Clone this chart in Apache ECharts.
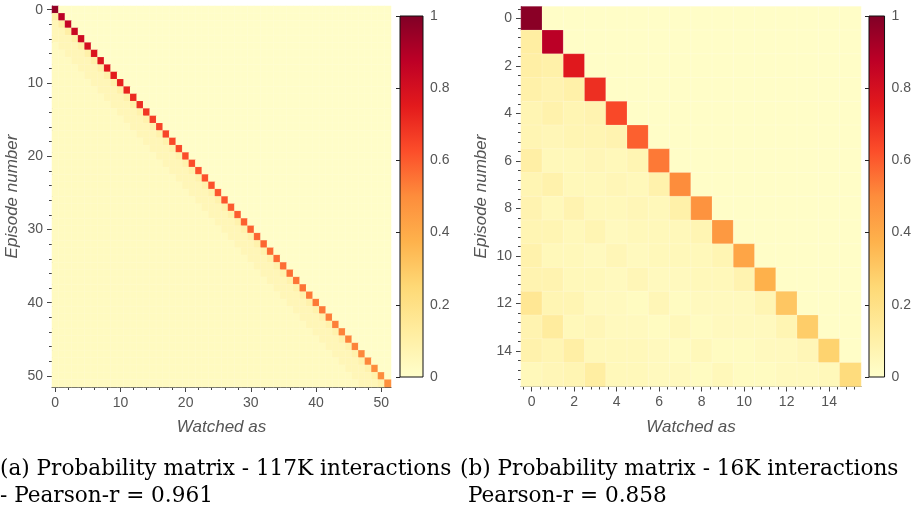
<!DOCTYPE html>
<html>
<head>
    <meta charset="utf-8">
    <title>Probability matrices</title>
    <script src="https://cdn.jsdelivr.net/npm/echarts@6/dist/echarts.min.js"></script>
    <style>
        html, body { margin: 0; padding: 0; background: #fff; }
    </style>
</head>
<body>
    <div id="main" style="width: 914px;height:512px;"></div>
    <script type="text/javascript">
    // ---- data ----
    // (a) 52 episodes
    var diagA = [0.96, 0.88, 0.85, 0.84, 0.82, 0.80, 0.78, 0.77, 0.76, 0.75,
                 0.73, 0.72, 0.71, 0.70, 0.68, 0.66, 0.65, 0.65, 0.64, 0.64,
                 0.63, 0.63, 0.62, 0.62, 0.62, 0.61, 0.61, 0.60, 0.60, 0.59,
                 0.59, 0.58, 0.58, 0.57, 0.57, 0.56, 0.56, 0.55, 0.55, 0.54,
                 0.54, 0.54, 0.53, 0.53, 0.52, 0.52, 0.52, 0.51, 0.51, 0.50,
                 0.50, 0.49];
    // cell just left of the diagonal, rows 1..51
    var subA = [0.11, 0.11, 0.11, 0.10, 0.10, 0.10, 0.10, 0.10, 0.10, 0.10,
                0.10, 0.10, 0.10, 0.09, 0.09, 0.09, 0.09, 0.09, 0.09, 0.09,
                0.09, 0.09, 0.09, 0.09, 0.09, 0.09, 0.09, 0.09, 0.09, 0.09,
                0.09, 0.09, 0.09, 0.09, 0.09, 0.09, 0.09, 0.09, 0.09, 0.09,
                0.09, 0.09, 0.09, 0.09, 0.09, 0.09, 0.09, 0.09, 0.09, 0.09,
                0.09];
    // cells 2-4 places left of the diagonal, and the rest of the lower triangle
    var nearA = 0.06;
    var lowerA = 0.035;
    var upperA = 0.012;

    // (b) 16 episodes
    var diagB = [0.98, 0.88, 0.76, 0.70, 0.64, 0.59, 0.54, 0.50, 0.48, 0.46,
                 0.42, 0.38, 0.31, 0.29, 0.27, 0.23];
    var lowerB = [
        [],
        [0.12],
        [0.11, 0.10],
        [0.10, 0.08, 0.10],
        [0.07, 0.09, 0.07, 0.08],
        [0.07, 0.06, 0.07, 0.07, 0.08],
        [0.11, 0.05, 0.05, 0.06, 0.05, 0.07],
        [0.07, 0.09, 0.05, 0.05, 0.06, 0.05, 0.09],
        [0.08, 0.05, 0.08, 0.05, 0.05, 0.06, 0.05, 0.10],
        [0.07, 0.07, 0.05, 0.07, 0.04, 0.05, 0.05, 0.05, 0.07],
        [0.09, 0.05, 0.05, 0.04, 0.06, 0.04, 0.05, 0.05, 0.05, 0.07],
        [0.08, 0.08, 0.05, 0.05, 0.04, 0.06, 0.04, 0.04, 0.05, 0.05, 0.08],
        [0.16, 0.07, 0.07, 0.04, 0.04, 0.03, 0.06, 0.03, 0.04, 0.04, 0.04, 0.07],
        [0.08, 0.13, 0.05, 0.06, 0.04, 0.04, 0.03, 0.05, 0.03, 0.04, 0.04, 0.04, 0.07],
        [0.09, 0.07, 0.11, 0.05, 0.05, 0.05, 0.04, 0.03, 0.05, 0.03, 0.03, 0.04, 0.04, 0.06],
        [0.05, 0.06, 0.07, 0.12, 0.05, 0.05, 0.04, 0.04, 0.03, 0.05, 0.03, 0.03, 0.04, 0.04, 0.05]
    ];
    var upperB = 0.015;

    var ticksA = [0, 10, 20, 30, 40, 50];
    var ticksB = [0, 2, 4, 6, 8, 10, 12, 14];
    var captionA = ['(a) Probability matrix - 117K interactions', '- Pearson-r = 0.961'];
    var captionB = ['(b) Probability matrix - 16K interactions', 'Pearson-r = 0.858'];

    var ylOrRd = ['#ffffcc', '#ffeda0', '#fed976', '#feb24c', '#fd8d3c',
                  '#fc4e2a', '#e31a1c', '#bd0026', '#800026'];

    // ---- build cell lists ----
    function idx(n) { var a = []; for (var i = 0; i < n; i++) a.push(i); return a; }
    var nA = diagA.length, nB = diagB.length;
    var cellsA = [], cellsB = [];
    for (var r = 0; r < nA; r++) {
        for (var c = 0; c < nA; c++) {
            var v;
            if (r === c) v = diagA[r];
            else if (c > r) v = upperA;
            else if (r - c === 1) v = subA[r - 1];
            else if (r - c <= 4) v = nearA;
            else v = lowerA;
            cellsA.push([c, r, v]);
        }
    }
    for (var r2 = 0; r2 < nB; r2++) {
        for (var c2 = 0; c2 < nB; c2++) {
            var w;
            if (r2 === c2) w = diagB[r2];
            else if (c2 > r2) w = upperB;
            else w = lowerB[r2][c2];
            cellsB.push([c2, r2, w]);
        }
    }

    var gray = '#555';
    var lineCol = '#444';
    var sans = '"Liberation Sans", Arial, sans-serif';
    var serifFont = '21.6px "DejaVu Serif", serif';

    // colour bar fill, bottom (0) to top (1)
    var barStops = ylOrRd.map(function (col, i) {
        return { offset: i / (ylOrRd.length - 1), color: col };
    });
    function barFill() { return new echarts.graphic.LinearGradient(0, 1, 0, 0, barStops); }

    function valueAxis(grid, pos, n, ticks, split, name, inverse) {
        return {
            type: 'value', gridIndex: grid, position: pos,
            min: -0.5, max: n - 0.5, splitNumber: split, inverse: !!inverse,
            axisLine: { show: true, onZero: false, lineStyle: { color: lineCol, width: 1 } },
            axisTick: { show: true, length: 5, customValues: ticks, lineStyle: { color: lineCol } },
            minorTick: { show: true, splitNumber: 5, length: 3, lineStyle: { color: lineCol } },
            axisLabel: { customValues: ticks, color: gray, fontSize: 14, fontFamily: sans, margin: 9 },
            splitLine: { show: false },
            name: name, nameLocation: 'middle', nameGap: pos === 'left' ? 31 : 32,
            nameTextStyle: { fontStyle: 'italic', fontSize: 17, color: gray, fontFamily: sans }
        };
    }
    function catAxis(grid, pos, n, inverse) {
        return { type: 'category', gridIndex: grid, position: pos, data: idx(n), inverse: !!inverse, show: false };
    }
    function barAxisY(grid) {
        return {
            type: 'value', gridIndex: grid, position: 'right', min: 0, max: 1, interval: 0.2, z: 10,
            axisLine: { show: false },
            axisTick: { show: true, inside: true, length: 4, lineStyle: { color: '#222' } },
            axisLabel: { color: gray, fontSize: 14, fontFamily: sans, margin: 7,
                         formatter: function (v) { return String(Math.round(v * 10) / 10); } },
            splitLine: { show: false }
        };
    }

    var myChart = echarts.init(document.getElementById('main'));
    var option = {
        animation: false,
        backgroundColor: '#fff',
        grid: [
            { left: 52, top: 6, width: 339, height: 381 },
            { left: 521, top: 6.5, width: 340, height: 380 },
            { left: 400, top: 16, width: 23, height: 361, show: true,
              borderColor: '#111', borderWidth: 1, backgroundColor: barFill() },
            { left: 869, top: 16, width: 23, height: 361, show: true,
              borderColor: '#111', borderWidth: 1, backgroundColor: barFill() }
        ],
        xAxis: [
            catAxis(0, 'top', nA),
            valueAxis(0, 'bottom', nA, ticksA, 5, 'Watched as'),
            catAxis(1, 'top', nB),
            valueAxis(1, 'bottom', nB, ticksB, 8, 'Watched as'),
            { type: 'value', gridIndex: 2, show: false },
            { type: 'value', gridIndex: 3, show: false }
        ],
        yAxis: [
            catAxis(0, 'right', nA, true),
            valueAxis(0, 'left', nA, ticksA, 5, 'Episode number', true),
            catAxis(1, 'right', nB, true),
            valueAxis(1, 'left', nB, ticksB, 8, 'Episode number', true),
            barAxisY(2),
            barAxisY(3)
        ],
        visualMap: [
            { type: 'continuous', seriesIndex: [0, 1], min: 0, max: 1, show: false,
              inRange: { color: ylOrRd } }
        ],
        series: [
            { type: 'heatmap', xAxisIndex: 0, yAxisIndex: 0, data: cellsA,
              itemStyle: { borderColor: 'rgba(255,255,255,0.25)', borderWidth: 0.3 },
              emphasis: { disabled: true } },
            { type: 'heatmap', xAxisIndex: 2, yAxisIndex: 2, data: cellsB,
              itemStyle: { borderColor: 'rgba(255,255,255,0.35)', borderWidth: 0.5 },
              emphasis: { disabled: true } }
        ],
        graphic: [
            { type: 'text', left: 0, top: 458, style: { text: captionA[0], font: serifFont, fill: '#000' } },
            { type: 'text', left: 0, top: 485, style: { text: captionA[1], font: serifFont, fill: '#000' } },
            { type: 'text', left: 460, top: 458, style: { text: captionB[0], font: serifFont, fill: '#000' } },
            { type: 'text', left: 468, top: 485, style: { text: captionB[1], font: serifFont, fill: '#000' } }
        ]
    };
    myChart.setOption(option);
    </script>
</body>
</html>
